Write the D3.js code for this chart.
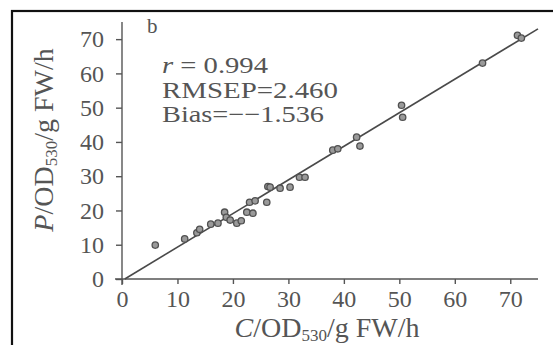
<!DOCTYPE html>
<html><head><meta charset="utf-8">
<script src="https://cdn.jsdelivr.net/npm/d3@7"></script>
<style>body{margin:0;background:#fff}svg{display:block}</style>
</head><body>
<svg id="c" width="553" height="345"></svg>
<script>
const xTicks = [0,10,20,30,40,50,60,70];
const yTicks = [0,10,20,30,40,50,60,70];
const measured = [6,11.3,13.5,14,16,17.3,18.5,18.8,19.5,20.7,21.5,22.5,23,23.6,24,26.1,26.3,26.7,28.5,30.3,32,33,38,38.9,42.3,42.9,50.4,50.6,65,71.3,72];
const predicted = [9.9,11.7,13.5,14.5,16,16.3,19.5,18,17.2,16.3,17,19.5,22.4,19.2,22.8,22.4,27,26.8,26.5,26.8,29.7,29.7,37.6,38,41.4,38.8,50.7,47.2,63,71.1,70.3];
const fitLine = [[0.5,0],[75,73]];
const stats = [["r","= 0.994"],["","RMSEP=2.460"],["","Bias=\u2212\u22121.536"]];
const statWidths = [106,176,162];

const svg = d3.select("#c");
svg.append("rect").attr("x",12).attr("y",11).attr("width",560).attr("height",360)
  .attr("fill","none").attr("stroke","#111").attr("stroke-width",2.2);

const x = d3.scaleLinear().domain([0,75]).range([122,538]);
const y = d3.scaleLinear().domain([0,75]).range([279,22]);
const col = "#555";
const font = "Liberation Serif";

const gx = svg.append("g").attr("transform","translate(0,279)")
  .call(d3.axisBottom(x).tickValues(xTicks).tickSize(5).tickSizeOuter(0));
const gy = svg.append("g").attr("transform","translate(122,0)")
  .call(d3.axisLeft(y).tickValues(yTicks).tickSize(6).tickSizeOuter(0));
[gx,gy].forEach(g=>{
  g.select(".domain").remove();
  g.selectAll(".tick line").attr("stroke",col).attr("stroke-width",1.4);
  g.selectAll(".tick text").attr("fill",col).attr("font-family",font).attr("font-size",24);
});
gx.selectAll(".tick text").attr("y",10).attr("dy","0.75em");
gy.selectAll(".tick text").attr("x",-18);
svg.append("line").attr("x1",x(0)-7).attr("x2",x(75)).attr("y1",y(0)).attr("y2",y(0)).attr("stroke",col).attr("stroke-width",1.4);
svg.append("line").attr("x1",x(0)).attr("x2",x(0)).attr("y1",y(0)+6).attr("y2",y(75)).attr("stroke",col).attr("stroke-width",1.4);

svg.append("line").attr("x1",x(fitLine[0][0])).attr("y1",y(fitLine[0][1]))
  .attr("x2",x(fitLine[1][0])).attr("y2",y(fitLine[1][1]))
  .attr("stroke","#4a4a4a").attr("stroke-width",1.6);

svg.selectAll("circle.p").data(measured).join("circle").attr("class","p")
  .attr("cx",d=>x(d)).attr("cy",(d,i)=>y(predicted[i])).attr("r",3.2)
  .attr("fill","#9a9a9a").attr("stroke","#505050").attr("stroke-width",1.3);

svg.append("text").attr("x",147).attr("y",33).attr("font-family",font).attr("font-size",21).attr("fill",col).text("b");

stats.forEach((s,i)=>{
  const t = svg.append("text").attr("x",162).attr("y",73+i*24.5).attr("font-family",font).attr("font-size",23)
    .attr("fill",col).attr("textLength",statWidths[i]).attr("lengthAdjust","spacingAndGlyphs");
  if(s[0]) t.append("tspan").attr("font-style","italic").text(s[0]+" ");
  t.append("tspan").text(s[1]);
});

const xt = svg.append("text").attr("x",327).attr("y",337).attr("text-anchor","middle")
  .attr("font-family",font).attr("font-size",28).attr("fill",col);
xt.append("tspan").attr("font-style","italic").text("C");
xt.append("tspan").text("/OD");
xt.append("tspan").attr("font-size",17).attr("dy",4).text("530");
xt.append("tspan").attr("dy",-4).text("/g FW/h");

const yt = svg.append("text").attr("transform","translate(53,140) rotate(-90)").attr("text-anchor","middle")
  .attr("font-family",font).attr("font-size",28).attr("fill",col);
yt.append("tspan").attr("font-style","italic").text("P");
yt.append("tspan").text("/OD");
yt.append("tspan").attr("font-size",17).attr("dy",4).text("530");
yt.append("tspan").attr("dy",-4).text("/g FW/h");
</script>
</body></html>
